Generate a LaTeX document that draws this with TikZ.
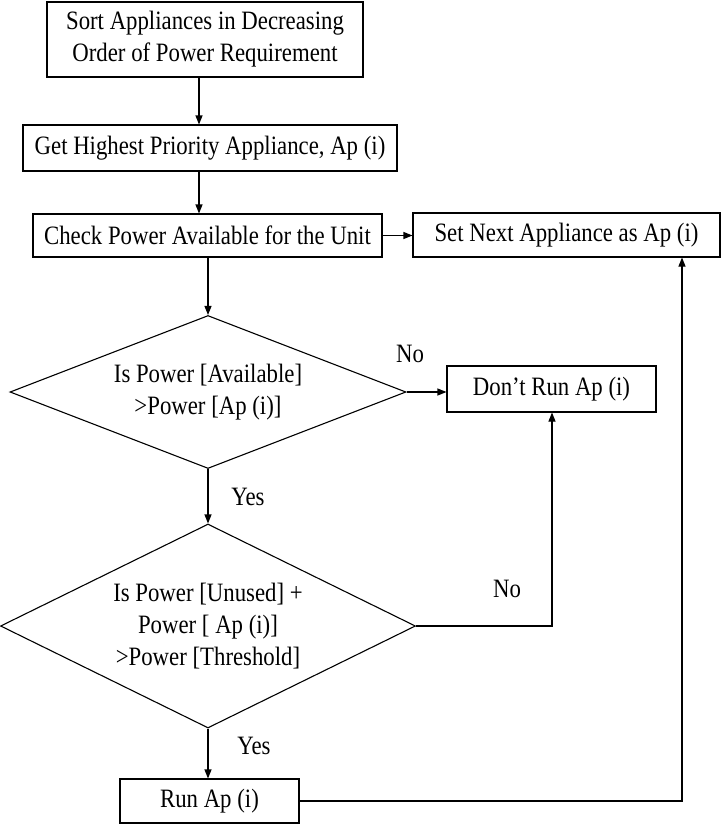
\documentclass[tikz,border=0pt]{standalone}
\usepackage{fontspec}
\setmainfont[FakeStretch=0.86]{Liberation Serif}
\usetikzlibrary{shapes.geometric,arrows.meta}
\begin{document}
\begin{tikzpicture}[x=1pt,y=-1pt,
  every node/.style={font=\fontsize{26.5}{32}\selectfont},
  procbox/.style={draw,line width=1.1pt,rectangle,inner sep=0pt,align=center},
  decision/.style={draw,line width=1.1pt,diamond,inner sep=0pt,align=center},
  flow/.style={line width=1.1pt,-{Triangle[length=9pt,width=7pt]}},
  lbl/.style={inner sep=0pt}]
\useasboundingbox (0,0) rectangle (722,825);

% process steps
\node[procbox,minimum width=316pt,minimum height=75pt] (sort) at (205,39.5)
  {Sort Appliances in Decreasing\\Order of Power Requirement};
\node[procbox,minimum width=374pt,minimum height=46pt] (get) at (210,148)
  {Get Highest Priority Appliance, Ap (i)};
\node[procbox,minimum width=349pt,minimum height=43pt] (check) at (207.5,235.5)
  {Check Power Available for the Unit};
\node[procbox,minimum width=307pt,minimum height=44pt] (next) at (566.5,235)
  {Set Next Appliance as Ap (i)};
\node[procbox,minimum width=209pt,minimum height=46pt] (dont) at (551.5,389)
  {Don’t Run Ap (i)};
\node[procbox,minimum width=179pt,minimum height=44pt] (run) at (209.5,801)
  {Run Ap (i)};

% decisions
\node[decision,aspect=2.6,minimum width=396pt,minimum height=153pt] (avail) at (208,392)
  {Is Power [Available]\\\textgreater Power [Ap (i)]};
\node[decision,aspect=2.03,minimum width=415pt,minimum height=204pt] (thresh) at (208,626)
  {Is Power [Unused] +\\Power [ Ap (i)]\\\textgreater Power [Threshold]};

% routing columns
\coordinate (cA) at (199,0);
\coordinate (cB) at (208,0);
\coordinate (cNo) at (552,0);
\coordinate (cLoop) at (682,0);

% connectors
\draw[flow] (sort.south -| cA) -- (get.north -| cA);
\draw[flow] (get.south -| cA) -- (check.north -| cA);
\draw[flow] (check.south -| cB) -- (avail.north);
\draw[flow] (check.east) -- (next.west |- check.east);
\draw[flow] (avail.east) -- (dont.west |- avail.east);
\draw[flow] (avail.south) -- (thresh.north);
\draw[flow] (thresh.east) -- (thresh.east -| cNo) -- (dont.south -| cNo);
\draw[flow] (thresh.south) -- (run.north -| thresh.south);
\draw[flow] (run.east) -- (run.east -| cLoop) -- (next.south -| cLoop);

% branch labels
\node[lbl] (no1) at (410,354) {No};
\node[lbl] (yes1) at (248,497) {Yes};
\node[lbl] (no2) at (507,589) {No};
\node[lbl] (yes2) at (254,746) {Yes};
\end{tikzpicture}
\end{document}
